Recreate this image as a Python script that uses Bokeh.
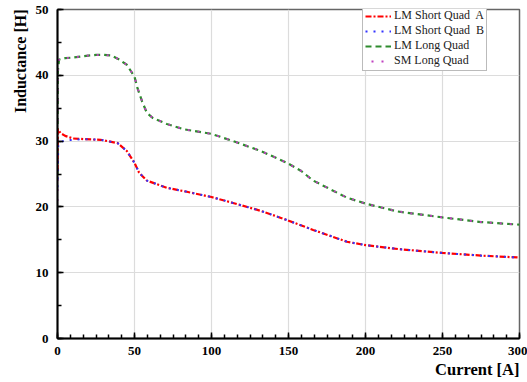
from bokeh.plotting import figure
from bokeh.models import Title, Legend, LegendItem, FixedTicker, Range1d
from bokeh.embed import file_html
from bokeh.resources import INLINE

# Data
lm_long_x = [0, 0.2, 1, 5, 10, 20, 25, 30, 35, 40, 45, 50, 52, 55, 58, 62, 71, 82, 100, 114, 132, 149, 158, 166, 188, 200, 221, 250, 275, 300]
lm_long_y = [25, 40.5, 42.4, 42.6, 42.7, 43.0, 43.1, 43.1, 43.0, 42.4, 41.6, 39.8, 38.0, 36.0, 34.3, 33.5, 32.6, 31.8, 31.1, 30.0, 28.5, 26.7, 25.5, 24.0, 21.4, 20.5, 19.3, 18.4, 17.7, 17.3]
sm_long_x = [0, 0.3, 1, 5, 10, 20, 25, 30, 35, 40, 45, 50, 52, 55, 58, 62, 71, 82, 100, 114, 132, 149, 158, 166, 188, 200, 221, 250, 275, 300]
sm_long_y = [20, 41.0, 42.5, 42.6, 42.7, 43.0, 43.1, 43.1, 43.0, 42.4, 41.6, 39.8, 38.0, 36.0, 34.3, 33.5, 32.6, 31.8, 31.1, 30.0, 28.5, 26.7, 25.5, 24.0, 21.4, 20.5, 19.3, 18.4, 17.7, 17.3]
lm_short_a_x = [0, 0.2, 2, 5, 10, 17, 28, 39, 45, 50, 53, 58, 71, 84, 100, 114, 132, 149, 166, 188, 200, 221, 250, 275, 300]
lm_short_a_y = [25.5, 31.8, 31.2, 30.8, 30.4, 30.3, 30.2, 29.7, 28.5, 26.7, 25.2, 24.0, 22.9, 22.3, 21.5, 20.6, 19.4, 18.0, 16.5, 14.7, 14.2, 13.6, 13.0, 12.6, 12.3]
lm_short_b_x = [0, 0.5, 2, 5, 10, 17, 28, 39, 45, 50, 53, 58, 71, 84, 100, 114, 132, 149, 166, 188, 200, 221, 250, 275, 300]
lm_short_b_y = [23, 29.7, 29.9, 30.1, 30.2, 30.3, 30.2, 29.7, 28.5, 26.7, 25.2, 24.0, 22.9, 22.3, 21.5, 20.6, 19.4, 18.0, 16.5, 14.7, 14.2, 13.6, 13.0, 12.6, 12.3]

x_ticks = [0, 50, 100, 150, 200, 250, 300]
y_ticks = [0, 10, 20, 30, 40, 50]

SERIF = "Liberation Serif"

p = figure(width=527, height=382, output_backend="svg", toolbar_location=None,
           x_range=Range1d(0, 300), y_range=Range1d(0, 50),
           min_border_left=57, min_border_right=8, min_border_top=9, min_border_bottom=44)
p.background_fill_color = "white"
p.border_fill_color = "white"
p.outline_line_color = "#666666"
p.outline_line_width = 1.5

p.xaxis.ticker = FixedTicker(ticks=x_ticks, minor_ticks=[i * 50 / 6 for i in range(37)])
p.yaxis.ticker = FixedTicker(ticks=y_ticks, minor_ticks=[i * 5 for i in range(11)])
for ax in (p.xaxis[0], p.yaxis[0]):
    ax.axis_line_color = "black"
    ax.axis_line_width = 2
    ax.major_tick_in = 6
    ax.major_tick_out = 0
    ax.minor_tick_in = 4
    ax.minor_tick_out = 0
    ax.major_tick_line_color = "black"
    ax.minor_tick_line_color = "black"
    ax.major_tick_line_width = 1.5
    ax.minor_tick_line_width = 1.5
    ax.major_label_text_font = SERIF
    ax.major_label_text_font_style = "bold"
    ax.major_label_text_font_size = "13px"
    ax.major_label_text_color = "black"
p.xaxis.major_label_standoff = 8
p.yaxis.major_label_standoff = 9

p.xgrid.grid_line_color = "#dcdcdc"
p.ygrid.grid_line_color = "#dcdcdc"
p.xgrid.grid_line_width = 1.2
p.ygrid.grid_line_width = 1.2

r_green = p.line(lm_long_x, lm_long_y, line_color="#2e8b2e", line_width=2.2, line_dash="6 4")
r_mag = p.line(sm_long_x, sm_long_y, line_color="#c040c0", line_width=2, line_dash="2 8", line_dash_offset=4)
r_red = p.line(lm_short_a_x, lm_short_a_y, line_color="#ff0000", line_width=2.2, line_dash="6 2 2 2")
r_blue = p.line(lm_short_b_x, lm_short_b_y, line_color="#3333ff", line_width=2, line_dash="2 6")

legend = Legend(items=[
    LegendItem(label="LM Short Quad  A", renderers=[r_red]),
    LegendItem(label="LM Short Quad  B", renderers=[r_blue]),
    LegendItem(label="LM Long Quad", renderers=[r_green]),
    LegendItem(label="SM Long Quad", renderers=[r_mag]),
], location=(305, 267))
legend.label_text_font = SERIF
legend.label_text_font_size = "12px"
legend.label_text_color = "#222222"
legend.label_height = 10
legend.glyph_height = 10
legend.glyph_width = 26
legend.label_standoff = 3
legend.spacing = 0
legend.padding = 2
legend.margin = 0
legend.border_line_color = "#777777"
legend.border_line_width = 1
legend.background_fill_alpha = 1
p.add_layout(legend, "center")

p.add_layout(Title(text="Inductance [H]", align="right", text_font=SERIF, text_font_style="bold",
                   text_font_size="16px", text_color="black", standoff=8), "left")
p.add_layout(Title(text="Current [A]", align="right", text_font=SERIF, text_font_style="bold",
                   text_font_size="16.5px", text_color="black", standoff=0), "below")

open("out.html", "w").write(file_html(p, INLINE))
